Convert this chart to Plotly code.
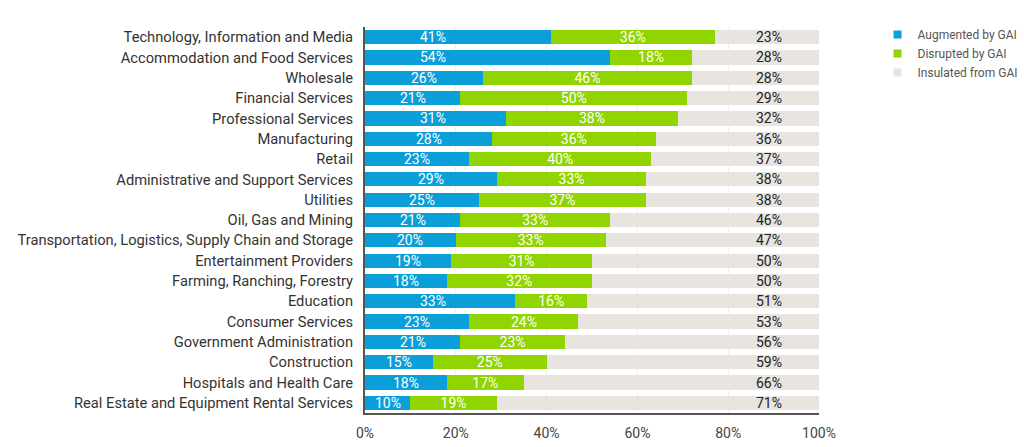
import plotly.graph_objects as go

categories = [
    "Technology, Information and Media",
    "Accommodation and Food Services",
    "Wholesale",
    "Financial Services",
    "Professional Services",
    "Manufacturing",
    "Retail",
    "Administrative and Support Services",
    "Utilities",
    "Oil, Gas and Mining",
    "Transportation, Logistics, Supply Chain and Storage",
    "Entertainment Providers",
    "Farming, Ranching, Forestry",
    "Education",
    "Consumer Services",
    "Government Administration",
    "Construction",
    "Hospitals and Health Care",
    "Real Estate and Equipment Rental Services",
]
augmented = [41, 54, 26, 21, 31, 28, 23, 29, 25, 21, 20, 19, 18, 33, 23, 21, 15, 18, 10]
disrupted = [36, 18, 46, 50, 38, 36, 40, 33, 37, 33, 33, 31, 32, 16, 24, 23, 25, 17, 19]
# bar lengths of the insulated segment as drawn (fills to 100%)
insulated = [23, 28, 28, 29, 32, 36, 37, 38, 38, 46, 47, 50, 50, 51, 53, 56, 60, 66, 71]
# printed labels of the insulated segment
insulated_labels = ["23%", "28%", "28%", "29%", "32%", "36%", "37%", "38%", "38%", "46%",
                    "47%", "50%", "50%", "51%", "53%", "56%", "59%", "66%", "71%"]
series_names = ["Augmented by GAI", "Disrupted by GAI", "Insulated from GAI"]
tick_vals = [0, 20, 40, 60, 80, 100]
tick_text = ["0%", "20%", "40%", "60%", "80%", "100%"]

BLUE = "#0a9fd9"
GREEN = "#90d400"
GRAY = "#e8e4df"
COLORS = [BLUE, GREEN, GRAY]
FONT = "Roboto"

fig = go.Figure()
fig.add_bar(y=categories, x=augmented, orientation="h", name=series_names[0],
            marker=dict(color=BLUE, line=dict(width=0)), showlegend=False,
            legendgroup="a")
fig.add_bar(y=categories, x=disrupted, orientation="h", name=series_names[1],
            marker=dict(color=GREEN, line=dict(width=0)), showlegend=False,
            legendgroup="d",
            text=[f"{v}%" for v in disrupted], textposition="inside",
            insidetextanchor="middle",
            textfont=dict(color="white", size=14, family=FONT))
fig.add_bar(y=categories, x=insulated, orientation="h", name=series_names[2],
            marker=dict(color=GRAY, line=dict(width=0)), showlegend=False,
            legendgroup="i")

# legend entries with small square swatches
for name, col, grp in zip(series_names, COLORS, ["a", "d", "i"]):
    fig.add_scatter(x=[None], y=[None], mode="markers", name=name,
                    legendgroup=grp,
                    marker=dict(symbol="square", size=8, color=col))

annotations = []
for c, a in zip(categories, augmented):
    annotations.append(dict(x=min(a / 2, 15), y=c, text=f"{a}%", showarrow=False,
                            xref="x", yref="y",
                            font=dict(color="white", size=14, family=FONT)))
for c, lab in zip(categories, insulated_labels):
    annotations.append(dict(x=89, y=c, text=lab, showarrow=False,
                            xref="x", yref="y",
                            font=dict(color="#222", size=14, family=FONT)))

fig.update_layout(
    barmode="stack",
    bargap=0.3,
    width=1024, height=447,
    margin=dict(l=365, r=205, t=27, b=34, pad=0, autoexpand=False),
    plot_bgcolor="white", paper_bgcolor="white",
    font=dict(family=FONT, color="#333"),
    annotations=annotations,
    legend=dict(xref="container", yref="container", x=0.857, y=0.955,
                xanchor="left", yanchor="top", traceorder="normal",
                font=dict(size=12, color="#555", family=FONT),
                itemwidth=30, tracegroupgap=0, bgcolor="rgba(0,0,0,0)"),
    showlegend=True,
    uniformtext=dict(mode="show", minsize=10),
)
fig.update_xaxes(range=[0, 100], tickvals=tick_vals, ticktext=tick_text,
                 showgrid=True, gridcolor="#efefef", gridwidth=1,
                 showline=True, linecolor="#555", linewidth=2,
                 ticks="", tickfont=dict(size=14, color="#444", family=FONT),
                 ticklabelstandoff=6,
                 zeroline=False, fixedrange=True, automargin=False)
fig.update_yaxes(autorange="reversed", showline=True, linecolor="#555", linewidth=2,
                 ticks="", tickfont=dict(size=14.7, color="#333", family=FONT),
                 ticklabelstandoff=7, fixedrange=True, automargin=False)

fig.write_html(
    "out.html",
    config={"displayModeBar": False},
    post_script="document.body.style.margin='0';document.body.style.overflow='hidden';",
)
